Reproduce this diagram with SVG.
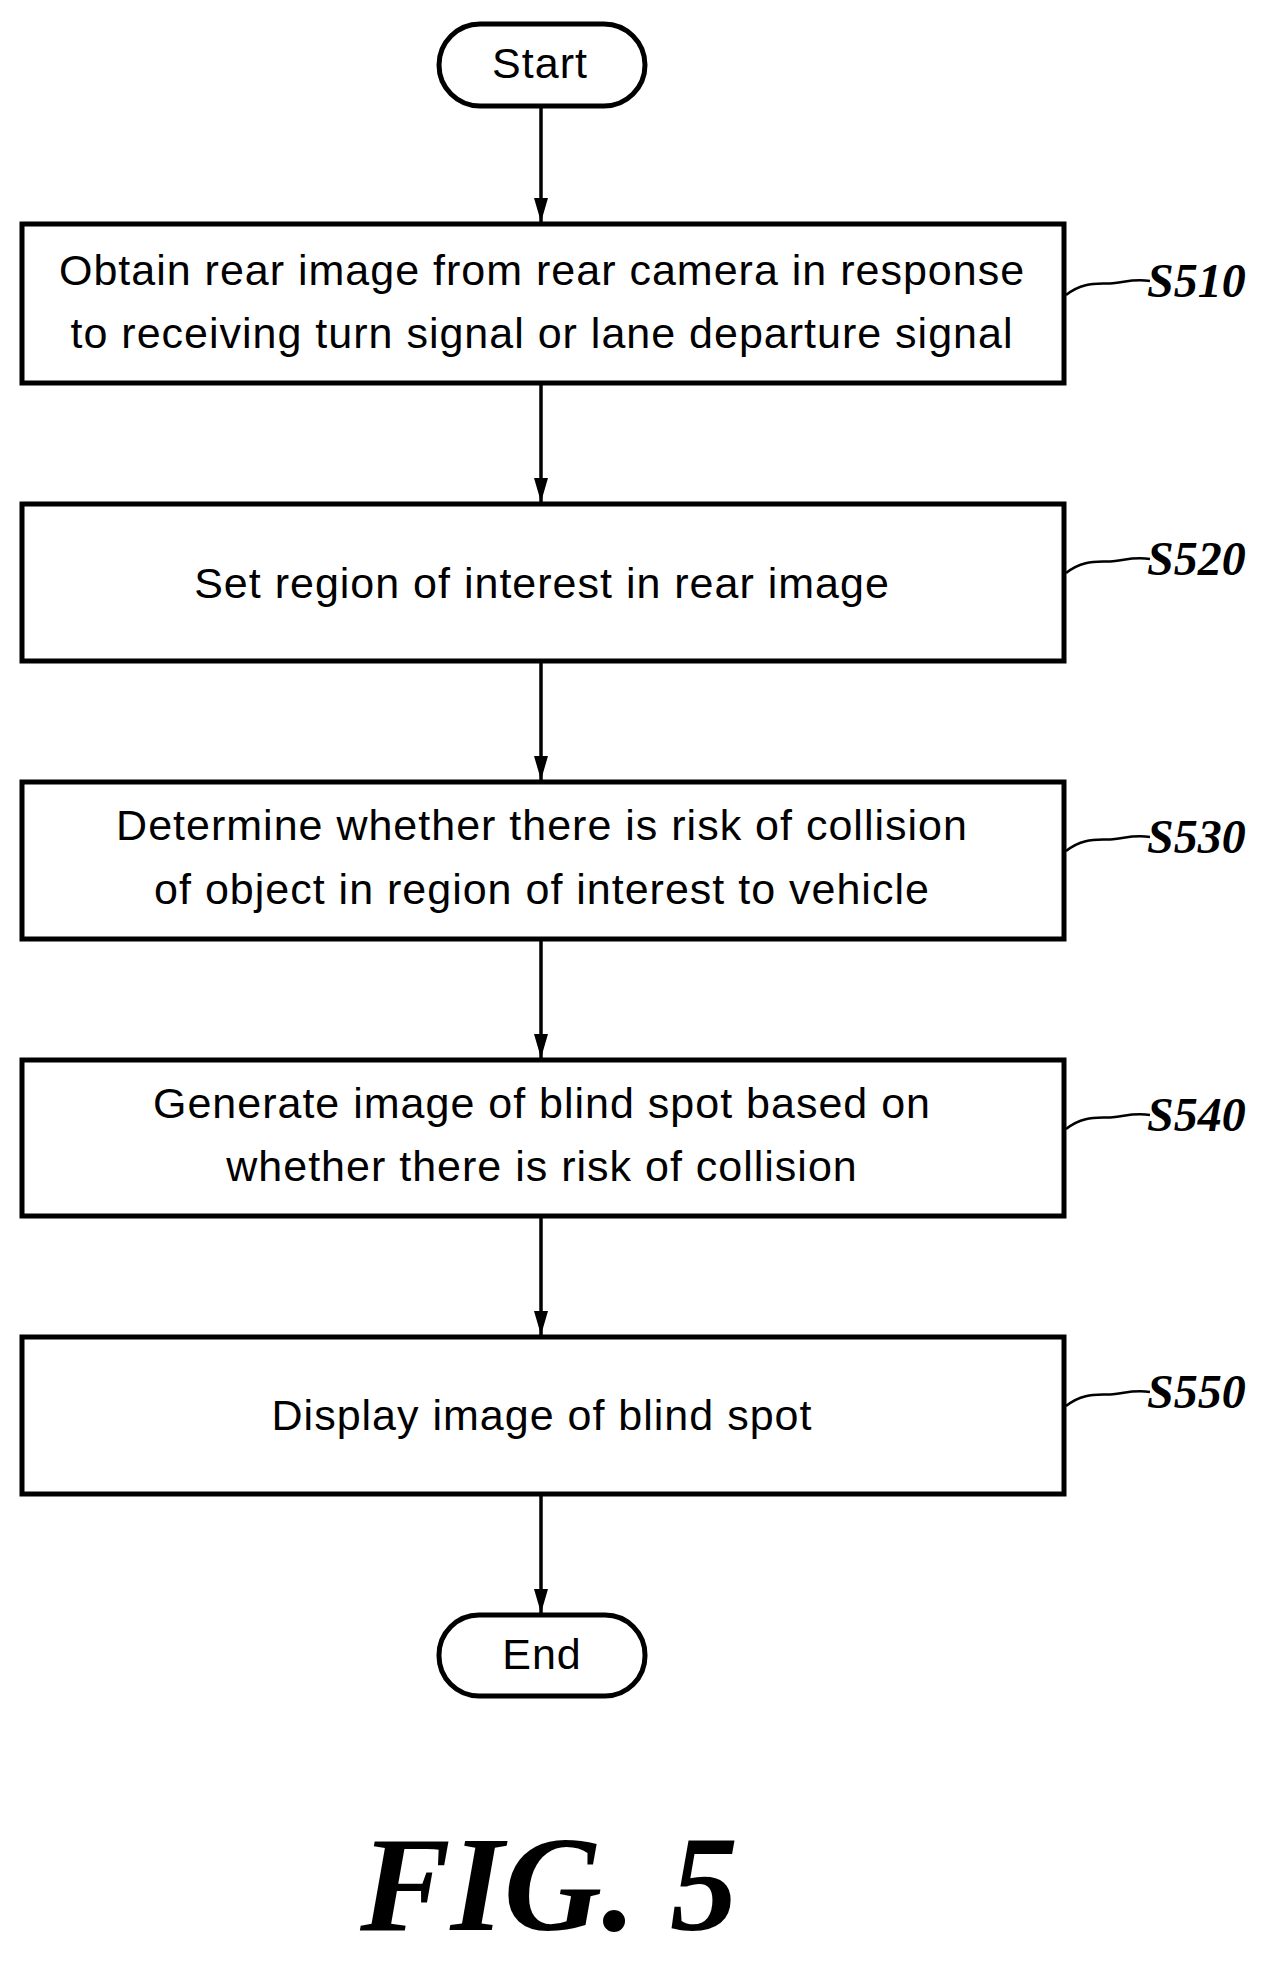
<svg xmlns="http://www.w3.org/2000/svg" width="1277" height="1966" viewBox="0 0 1277 1966">
<defs>
<marker id="ah" markerWidth="14" markerHeight="24" refX="7" refY="24" orient="0" markerUnits="userSpaceOnUse" viewBox="0 0 14 24"><path d="M0,0 L14,0 L7,24 Z" fill="#000"/></marker>
<style>
.box{fill:#fff;stroke:#000;stroke-width:5}
.t{font-family:"Liberation Sans",Arial,sans-serif;font-size:43px;letter-spacing:1px;text-anchor:middle;fill:#000}
.lbl{font-family:"Liberation Serif","Times New Roman",serif;font-style:italic;font-weight:bold;font-size:48px;fill:#000}
.ln{stroke:#000;stroke-width:2.5;fill:none}
</style>
</defs>
<rect width="1277" height="1966" fill="#fff"/>
<g id="start"><rect class="box" x="439" y="24" width="206" height="82" rx="41"/><text class="t" x="540" y="78">Start</text></g>
<g id="s510"><rect class="box" x="22" y="224" width="1042" height="159"/><text class="t" x="542" y="285">Obtain rear image from rear camera in response</text><text class="t" x="542" y="348">to receiving turn signal or lane departure signal</text><path class="ln" d="M1066,295 C1085,280 1100,285 1115,283 C1130,281 1135,279 1150,281"/><text class="lbl" x="1147" y="297">S510</text></g>
<g id="s520"><rect class="box" x="22" y="504" width="1042" height="157"/><text class="t" x="542" y="598">Set region of interest in rear image</text><path class="ln" d="M1066,573 C1085,558 1100,563 1115,561 C1130,559 1135,557 1150,559"/><text class="lbl" x="1147" y="575">S520</text></g>
<g id="s530"><rect class="box" x="22" y="782" width="1042" height="157"/><text class="t" x="542" y="840">Determine whether there is risk of collision</text><text class="t" x="542" y="904">of object in region of interest to vehicle</text><path class="ln" d="M1066,851 C1085,836 1100,841 1115,839 C1130,837 1135,835 1150,837"/><text class="lbl" x="1147" y="853">S530</text></g>
<g id="s540"><rect class="box" x="22" y="1060" width="1042" height="156"/><text class="t" x="542" y="1118">Generate image of blind spot based on</text><text class="t" x="542" y="1181">whether there is risk of collision</text><path class="ln" d="M1066,1129 C1085,1114 1100,1119 1115,1117 C1130,1115 1135,1113 1150,1115"/><text class="lbl" x="1147" y="1131">S540</text></g>
<g id="s550"><rect class="box" x="22" y="1337" width="1042" height="157"/><text class="t" x="542" y="1430">Display image of blind spot</text><path class="ln" d="M1066,1406 C1085,1391 1100,1396 1115,1394 C1130,1392 1135,1390 1150,1392"/><text class="lbl" x="1147" y="1408">S550</text></g>
<g id="end"><rect class="box" x="439" y="1615" width="206" height="81" rx="40"/><text class="t" x="542" y="1669">End</text></g>
<g id="connectors" stroke="#000" stroke-width="3.5" marker-end="url(#ah)">
<line x1="541" y1="106" x2="541" y2="222"/>
<line x1="541" y1="383" x2="541" y2="502"/>
<line x1="541" y1="661" x2="541" y2="780"/>
<line x1="541" y1="939" x2="541" y2="1058"/>
<line x1="541" y1="1216" x2="541" y2="1335"/>
<line x1="541" y1="1494" x2="541" y2="1613"/>
</g>
<text x="549" y="1930" font-family="Liberation Serif,'Times New Roman',serif" font-style="italic" font-weight="bold" font-size="136" text-anchor="middle">FIG. 5</text>
</svg>
